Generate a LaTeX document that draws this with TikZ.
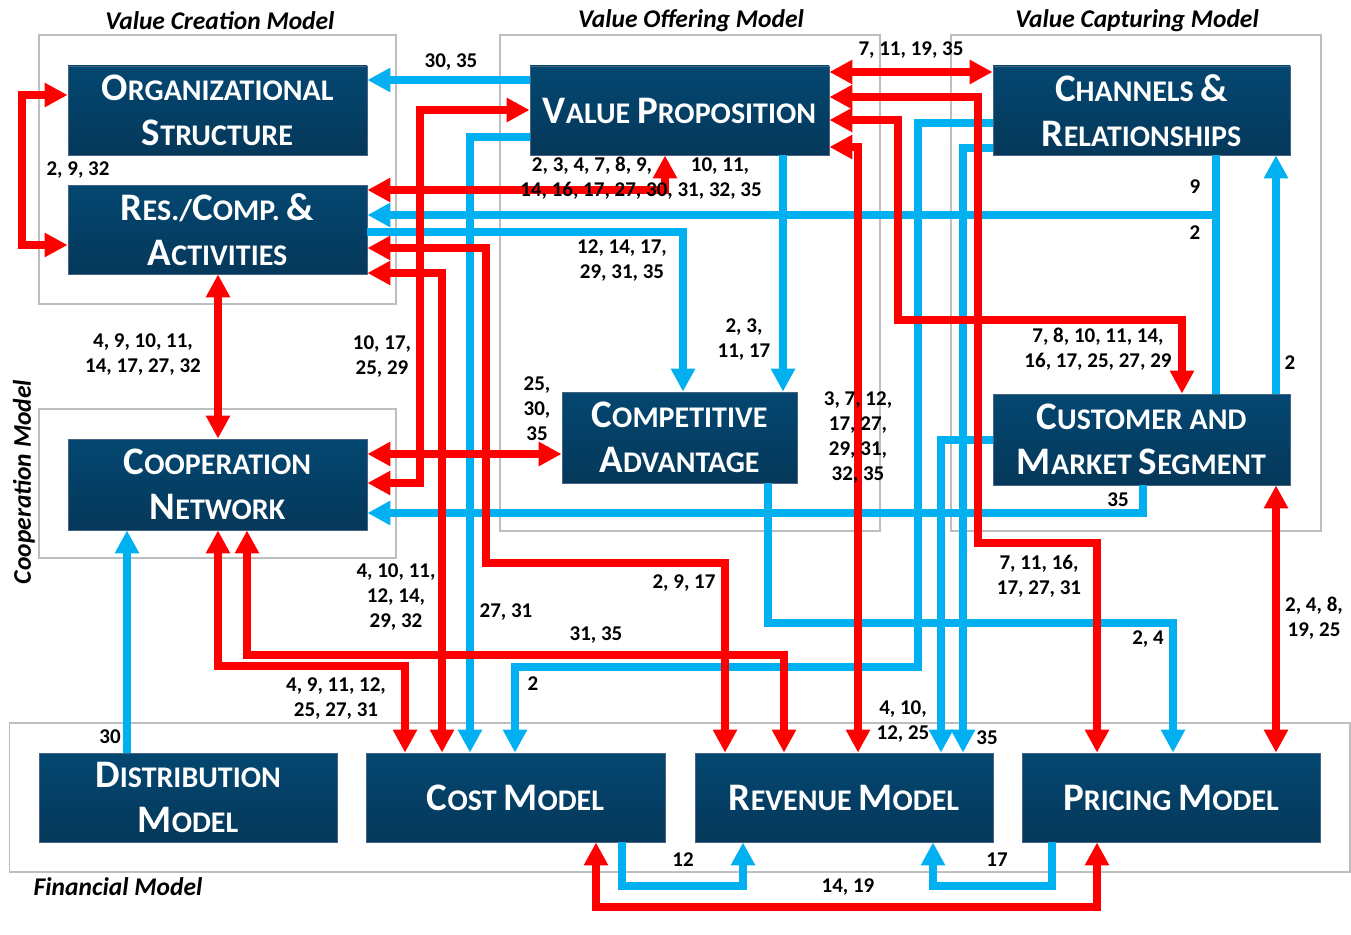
\documentclass[tikz,border=0pt]{standalone}
\usepackage{fontspec}
\setmainfont{Carlito}
\usetikzlibrary{arrows.meta}
\definecolor{navyT}{RGB}{4,71,113}
\definecolor{navyB}{RGB}{5,56,90}
\definecolor{navyE}{RGB}{70,100,130}
\definecolor{linered}{RGB}{255,0,0}
\definecolor{lineblue}{RGB}{0,176,240}
\definecolor{framegray}{RGB}{190,190,190}
\newcommand\Bg[1]{{\fontsize{39}{45}\selectfont #1}}
\begin{document}
\begin{tikzpicture}[x=1pt,y=-1pt,
  blk/.style={draw=navyE, line width=0.8pt, top color=navyT, bottom color=navyB, text=white,
    font=\bfseries\fontsize{30}{45}\selectfont, align=center, inner sep=0pt,
    minimum width=299pt, minimum height=89pt},
  frm/.style={draw=framegray, line width=1.3pt},
  ttl/.style={font=\bfseries\itshape\fontsize{25.5}{30}\selectfont, inner sep=0pt},
  lbl/.style={font=\bfseries\fontsize{21}{25}\selectfont, align=center, inner sep=0pt},
  rl/.style={draw=linered, line width=8pt},
  bll/.style={draw=lineblue, line width=8pt},
  oneway/.style={-{Triangle[length=23pt,width=23pt]}},
  twoway/.style={{Triangle[length=23pt,width=23pt]}-{Triangle[length=23pt,width=23pt]}},
]
\useasboundingbox (0,0) rectangle (1351,934);
% group frames
\draw[frm] (39,35) rectangle (396,304);
\draw[frm] (500,35) rectangle (880,531);
\draw[frm] (951,35) rectangle (1321,531);
\draw[frm] (39,409) rectangle (396,558);
\draw[frm] (9.5,723) rectangle (1350,872);
% titles
\node[ttl] (t1) at (220,21) {Value Creation Model};
\node[ttl] (t2) at (691,21) {Value Offering Model};
\node[ttl] (t3) at (1137,21) {Value Capturing Model};
\node[ttl,rotate=90] (t4) at (24,482) {Cooperation Model};
\node[ttl] (t5) at (118,887) {Financial Model};
% nodes
\node[blk] (os) at (217.5,110.5) {\Bg{O}RGANIZATIONAL\\\Bg{S}TRUCTURE};
\node[blk] (rc) at (217.5,229.5) {\Bg{R}ES./\Bg{C}OMP. \Bg{\&}\\\Bg{A}CTIVITIES};
\node[blk,minimum height=91pt] (cn) at (217.5,484.5) {\Bg{C}OOPERATION\\\Bg{N}ETWORK};
\node[blk] (vp) at (679.5,110.5) {\Bg{V}ALUE \Bg{P}ROPOSITION};
\node[blk,minimum width=235pt,minimum height=91pt] (ca) at (679.5,437.5) {\Bg{C}OMPETITIVE\\\Bg{A}DVANTAGE};
\node[blk,minimum width=297pt] (ch) at (1141.5,110.5) {\Bg{C}HANNELS \Bg{\&}\\\Bg{R}ELATIONSHIPS};
\node[blk,minimum width=297pt,minimum height=91pt] (cu) at (1141.5,439.5) {\Bg{C}USTOMER AND\\\Bg{M}ARKET \Bg{S}EGMENT};
\node[blk,minimum width=298pt] (dm) at (188,797.5) {\Bg{D}ISTRIBUTION\\\Bg{M}ODEL};
\node[blk] (cm) at (515.5,797.5) {\Bg{C}OST \Bg{M}ODEL};
\node[blk,minimum width=298pt] (rm) at (844,797.5) {\Bg{R}EVENUE \Bg{M}ODEL};
\node[blk,minimum width=298pt] (pm) at (1171,797.5) {\Bg{P}RICING \Bg{M}ODEL};
% blue connectors
\draw[bll,oneway] (vp.west |- 0,80) -- (os.east |- 0,80);
\draw[bll] (cu.north -| 1216,0) -- (1216,215);
\draw[bll,oneway] (ch.south -| 1216,0) |- (rc.east |- 0,215);
\draw[bll,oneway] (rc.east |- 0,232) -| (ca.north -| 683,0);
\draw[bll,oneway] (dm.north -| 127,0) -- (cn.south -| 127,0);
\draw[bll,oneway] (vp.west |- 0,137) -| (cm.north -| 470,0);
\draw[bll,oneway] (ch.west |- 0,123) -| (918,667) -| (cm.north -| 515,0);
\draw[bll,oneway] (ch.west |- 0,148) -| (rm.north -| 963,0);
\draw[bll,oneway] (cu.west |- 0,440) -| (rm.north -| 941,0);
\draw[bll,oneway] (vp.south -| 783,0) -- (ca.north -| 783,0);
\draw[bll,oneway] (ca.south -| 768,0) |- (1173,623) -- (pm.north -| 1173,0);
\draw[bll,oneway] (cu.south -| 1143,0) |- (cn.east |- 0,513);
\draw[bll,oneway] (cu.north -| 1276,0) -- (ch.south -| 1276,0);
\draw[bll,oneway] (cm.south -| 622,0) |- (743,886) -- (rm.south -| 743,0);
\draw[bll,oneway] (pm.south -| 1052,0) |- (933,886) -- (rm.south -| 933,0);
% red connectors
\draw[rl,twoway] (os.west |- 0,95) -| (22,170) |- (rc.west |- 0,245);
\draw[rl,twoway] (vp.west |- 0,110) -| (420,300) |- (cn.east |- 0,483);
\draw[rl,twoway] (cn.east |- 0,454) -- (ca.west |- 0,454);
\draw[rl,twoway] (rc.east |- 0,190) -| (vp.south -| 665,0);
\draw[rl,twoway] (rc.east |- 0,248) -| (486,563) -| (rm.north -| 725,0);
\draw[rl,twoway] (rc.east |- 0,273) -| (cm.north -| 442,0);
\draw[rl,twoway] (cn.south -| 218,0) |- (405,666) -- (cm.north -| 405,0);
\draw[rl,twoway] (cn.south -| 247,0) |- (784,655) -- (rm.north -| 784,0);
\draw[rl,twoway] (rc.south -| 218,0) -- (cn.north -| 218,0);
\draw[rl,twoway] (vp.east |- 0,72) -- (ch.west |- 0,72);
\draw[rl,twoway] (vp.east |- 0,97) -| (978,543) -| (pm.north -| 1097,0);
\draw[rl,twoway] (vp.east |- 0,120) -| (898,320) -| (cu.north -| 1182,0);
\draw[rl,twoway] (vp.east |- 0,147) -| (rm.north -| 858,0);
\draw[rl,twoway] (cu.south -| 1276,0) -- (pm.north -| 1276,0);
\draw[rl,twoway] (cm.south -| 596,0) |- (1097,907) -- (pm.south -| 1097,0);
% labels
\node[lbl] (l1) at (451,62) {30, 35};
\node[lbl] (l2) at (78,170) {2, 9, 32};
\node[lbl] (l3) at (592,166) {2, 3, 4, 7, 8, 9,};
\node[lbl] (l4) at (720,166) {10, 11,};
\node[lbl] (l5) at (641,191) {14, 16, 17, 27, 30, 31, 32, 35};
\node[lbl] (l6) at (622,261) {12, 14, 17,\\29, 31, 35};
\node[lbl] (l7) at (911,50) {7, 11, 19, 35};
\node[lbl] (l8) at (1195,187) {9};
\node[lbl] (l9) at (1195,233) {2};
\node[lbl] (l10) at (143,355) {4, 9, 10, 11,\\14, 17, 27, 32};
\node[lbl] (l11) at (382,357) {10, 17,\\25, 29};
\node[lbl] (l12) at (537,409) {25,\\30,\\35};
\node[lbl] (l13) at (744,340) {2, 3,\\11, 17};
\node[lbl] (l14) at (858,438) {3, 7, 12,\\17, 27,\\29, 31,\\32, 35};
\node[lbl] (l15) at (1098,349) {7, 8, 10, 11, 14,\\16, 17, 25, 27, 29};
\node[lbl] (l16) at (1290,363) {2};
\node[lbl] (l17) at (1118,500) {35};
\node[lbl] (l18) at (1039,576) {7, 11, 16,\\17, 27, 31};
\node[lbl] (l19) at (1314,618) {2, 4, 8,\\19, 25};
\node[lbl] (l20) at (1148,639) {2, 4};
\node[lbl] (l21) at (903,722) {4, 10,\\12, 25};
\node[lbl] (l22) at (987,738) {35};
\node[lbl] (l23) at (997,860) {17};
\node[lbl] (l24) at (848,887) {14, 19};
\node[lbl] (l25) at (683,860) {12};
\node[lbl] (l26) at (533,684) {2};
\node[lbl] (l27) at (596,635) {31, 35};
\node[lbl] (l28) at (506,612) {27, 31};
\node[lbl] (l29) at (684,583) {2, 9, 17};
\node[lbl] (l30) at (396,597) {4, 10, 11,\\12, 14,\\29, 32};
\node[lbl] (l31) at (336,699) {4, 9, 11, 12,\\25, 27, 31};
\node[lbl] (l32) at (110,737) {30};
\end{tikzpicture}
\end{document}
